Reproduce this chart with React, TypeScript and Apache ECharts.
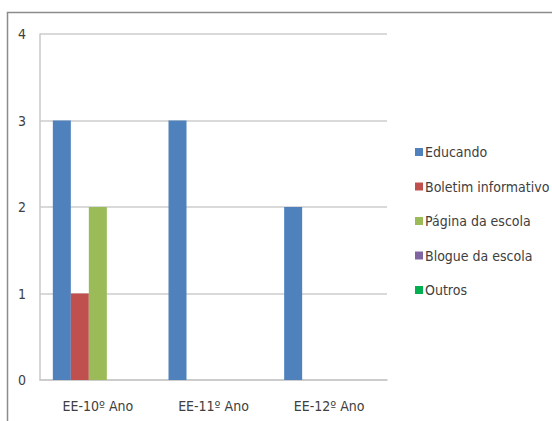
import React, { useEffect, useRef } from "react";
import * as echarts from "echarts";

const categories = ["EE-10º Ano", "EE-11º Ano", "EE-12º Ano"];
const seriesNames = ["Educando", "Boletim informativo", "Página da escola", "Blogue da escola", "Outros"];
const educando = [3, 3, 2];
const boletim = [1, 0, 0];
const pagina = [2, 0, 0];
const blogue = [0, 0, 0];
const outros = [0, 0, 0];
const colors = ["#4f81bd", "#c0504d", "#9bbb59", "#8064a2", "#00b050"];
const FONT = "'Liberation Sans Narrow', 'DejaVu Sans Condensed', sans-serif";

export default function App() {
  const ref = useRef<HTMLDivElement>(null);
  useEffect(() => {
    if (!ref.current) return;
    const chart = echarts.init(ref.current, null, { renderer: "svg" });
    const values = [educando, boletim, pagina, blogue, outros];
    chart.setOption({
      animation: false,
      backgroundColor: "#ffffff",
      color: colors,
      textStyle: { fontFamily: FONT },
      graphic: [
        {
          type: "rect",
          shape: { x: 7.5, y: 12.5, width: 700, height: 600 },
          style: { fill: "none", stroke: "#8c8c8c", lineWidth: 1.5 },
          silent: true,
        },
      ],
      grid: { left: 40, top: 34, right: 165, bottom: 41, containLabel: false },
      legend: {
        orient: "vertical",
        left: 410,
        top: 140,
        itemWidth: 8,
        itemHeight: 8,
        itemGap: 20.5,
        icon: "rect",
        data: seriesNames,
        textStyle: { fontFamily: FONT, fontSize: 14, color: "#404040", padding: [0, 0, 0, -3] },
      },
      xAxis: {
        type: "category",
        data: categories,
        axisLine: { show: true, lineStyle: { color: "#c8c8c8", width: 1.5 } },
        axisTick: { show: false },
        axisLabel: { margin: 19, fontSize: 14, color: "#404040", fontFamily: FONT },
      },
      yAxis: {
        type: "value",
        min: 0,
        max: 4,
        interval: 1,
        axisLine: { show: true, lineStyle: { color: "#c8c8c8", width: 1.5 } },
        axisTick: { show: false },
        axisLabel: { margin: 14, fontSize: 14, color: "#404040", fontFamily: FONT },
        splitLine: { show: true, lineStyle: { color: "#cccccc", width: 1.5 } },
      },
      series: seriesNames.map((name, i) => ({
        name,
        type: "bar",
        data: values[i],
        barWidth: 18,
        barGap: "0%",
        itemStyle: { color: colors[i] },
      })),
    });
    return () => chart.dispose();
  }, []);
  return (
    <div
      ref={ref}
      style={{ position: "absolute", left: 0, top: 0, width: 552, height: 421 }}
    />
  );
}
